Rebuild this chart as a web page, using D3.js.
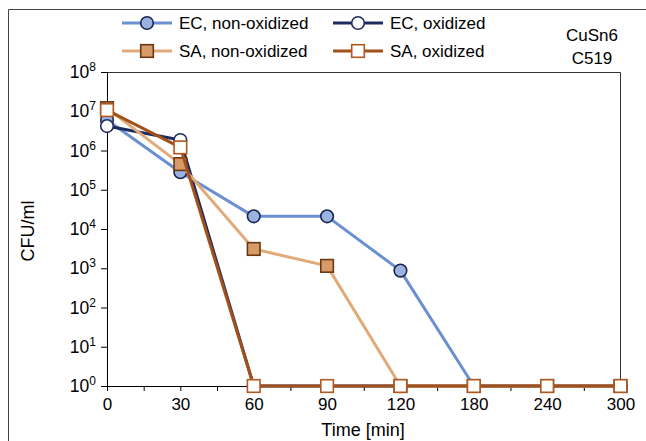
<!DOCTYPE html>
<html><head><meta charset="utf-8">
<script src="https://cdn.jsdelivr.net/npm/d3@7"></script>
<style>body{margin:0;background:#fff}svg{display:block;font-family:"Liberation Sans",Arial,sans-serif}</style>
</head><body><svg id="c" width="646" height="441"></svg>
<script>
const categories = ["0","30","60","90","120","180","240","300"];
const ecNonOx = [6e6, 2.8e5, 2.1e4, 2.1e4, 8.7e2, 1, 1, 1];
const ecOx    = [4.2e6, 1.85e6, 1, 1, 1, 1, 1, 1];
const saNonOx = [1.2e7, 4.5e5, 3.1e3, 1.15e3, 1, 1, 1, 1];
const saOx    = [1.07e7, 1.2e6, 1, 1, 1, 1, 1, 1];
const yTicks = [1e0,1e1,1e2,1e3,1e4,1e5,1e6,1e7,1e8];

const series = [
  {name:"EC, non-oxidized", values:ecNonOx, line:"#6b8fd3", fill:"#9ab3e3", stroke:"#1b2650", shape:"circle"},
  {name:"EC, oxidized", values:ecOx, line:"#1e2b5e", fill:"#ffffff", stroke:"#1e2b5e", shape:"circle"},
  {name:"SA, non-oxidized", values:saNonOx, line:"#e2aa78", fill:"#d69b66", stroke:"#6a3913", shape:"square"},
  {name:"SA, oxidized", values:saOx, line:"#a4501b", fill:"#ffffff", stroke:"#b0581f", shape:"square"}
];

const svg = d3.select("#c");
const L = 107, R = 620.5, T = 72, B = 386;
const x = d3.scalePoint().domain(categories).range([L, R]).padding(0);
const xi = d3.scaleLinear().domain([0, categories.length-1]).range([L, R]);
const y = d3.scaleLog().domain([1, 1e8]).range([B, T]);

// outer border
svg.append("path").attr("d", `M8.5,441 V9.5 H646`).attr("fill","none").attr("stroke","#444").attr("stroke-width",1);

// plot frame
svg.append("path").attr("d", `M${L},${T+0.5} H${R} V${B}`).attr("fill","none").attr("stroke","#333").attr("stroke-width",1);

// x axis
const xAxis = svg.append("g").attr("transform",`translate(0,${B})`)
  .call(d3.axisBottom(xi).tickValues(d3.range(0, categories.length-0.99, 0.5)).tickSize(5).tickSizeOuter(0)
    .tickFormat(d => Number.isInteger(d) ? categories[d] : ""));
xAxis.select(".domain").attr("stroke","#000");
xAxis.selectAll(".tick line").attr("stroke","#000");
xAxis.selectAll(".tick text").attr("font-size",17).attr("font-family","Liberation Sans, Arial, sans-serif").attr("fill","#000").attr("dy","0.95em");

// y axis
const yAxis = svg.append("g").attr("transform",`translate(${L},0)`)
  .call(d3.axisLeft(y).tickValues(yTicks).tickSize(6).tickSizeOuter(0).tickFormat(""));
yAxis.select(".domain").attr("stroke","#000");
yAxis.selectAll(".tick line").attr("stroke","#000");
const yl = svg.append("g").selectAll("text").data(yTicks).join("text")
  .attr("x", 96).attr("y", d => y(d) + 6).attr("text-anchor","end").attr("font-size",17.5).attr("fill","#000");
yl.append("tspan").text("10");
yl.append("tspan").attr("dy",-7).attr("font-size",12).text(d => Math.round(Math.log10(d)));

// axis titles
svg.append("text").attr("x", 363).attr("y", 436).attr("text-anchor","middle").attr("font-size",18).text("Time [min]");
svg.append("text").attr("transform","translate(34,231) rotate(-90)").attr("text-anchor","middle").attr("font-size",18).text("CFU/ml");

// series
const line = d3.line().x((d,i) => x(categories[i])).y(d => y(d));
function marker(g, shape, cx, cy, s) {
  if (shape === "circle") {
    g.append("circle").attr("cx",cx).attr("cy",cy).attr("r",6.3).attr("fill",s.fill).attr("stroke",s.stroke).attr("stroke-width",1.6);
  } else {
    g.append("rect").attr("x",cx-6.3).attr("y",cy-6.3).attr("width",12.6).attr("height",12.6).attr("fill",s.fill).attr("stroke",s.stroke).attr("stroke-width",1.6);
  }
}
series.forEach(s => {
  const g = svg.append("g");
  g.append("path").attr("d", line(s.values)).attr("fill","none").attr("stroke",s.line).attr("stroke-width",3).attr("stroke-linejoin","round");
  s.values.forEach((v,i) => marker(g, s.shape, x(categories[i]), y(v), s));
});

// legend
const legPos = [[122,23],[333,23],[122,51],[333,51]];
series.forEach((s,i) => {
  const [lx, ly] = legPos[i];
  const g = svg.append("g");
  g.append("line").attr("x1",lx).attr("x2",lx+50).attr("y1",ly).attr("y2",ly).attr("stroke",s.line).attr("stroke-width",3);
  marker(g, s.shape, lx+25, ly, s);
  g.append("text").attr("x", lx+57).attr("y", ly+6).attr("font-size",17).text(s.name);
});

// annotation
svg.append("text").attr("x",592).attr("y",41).attr("text-anchor","middle").attr("font-size",17).text("CuSn6");
svg.append("text").attr("x",592).attr("y",64).attr("text-anchor","middle").attr("font-size",17).text("C519");
</script></body></html>
